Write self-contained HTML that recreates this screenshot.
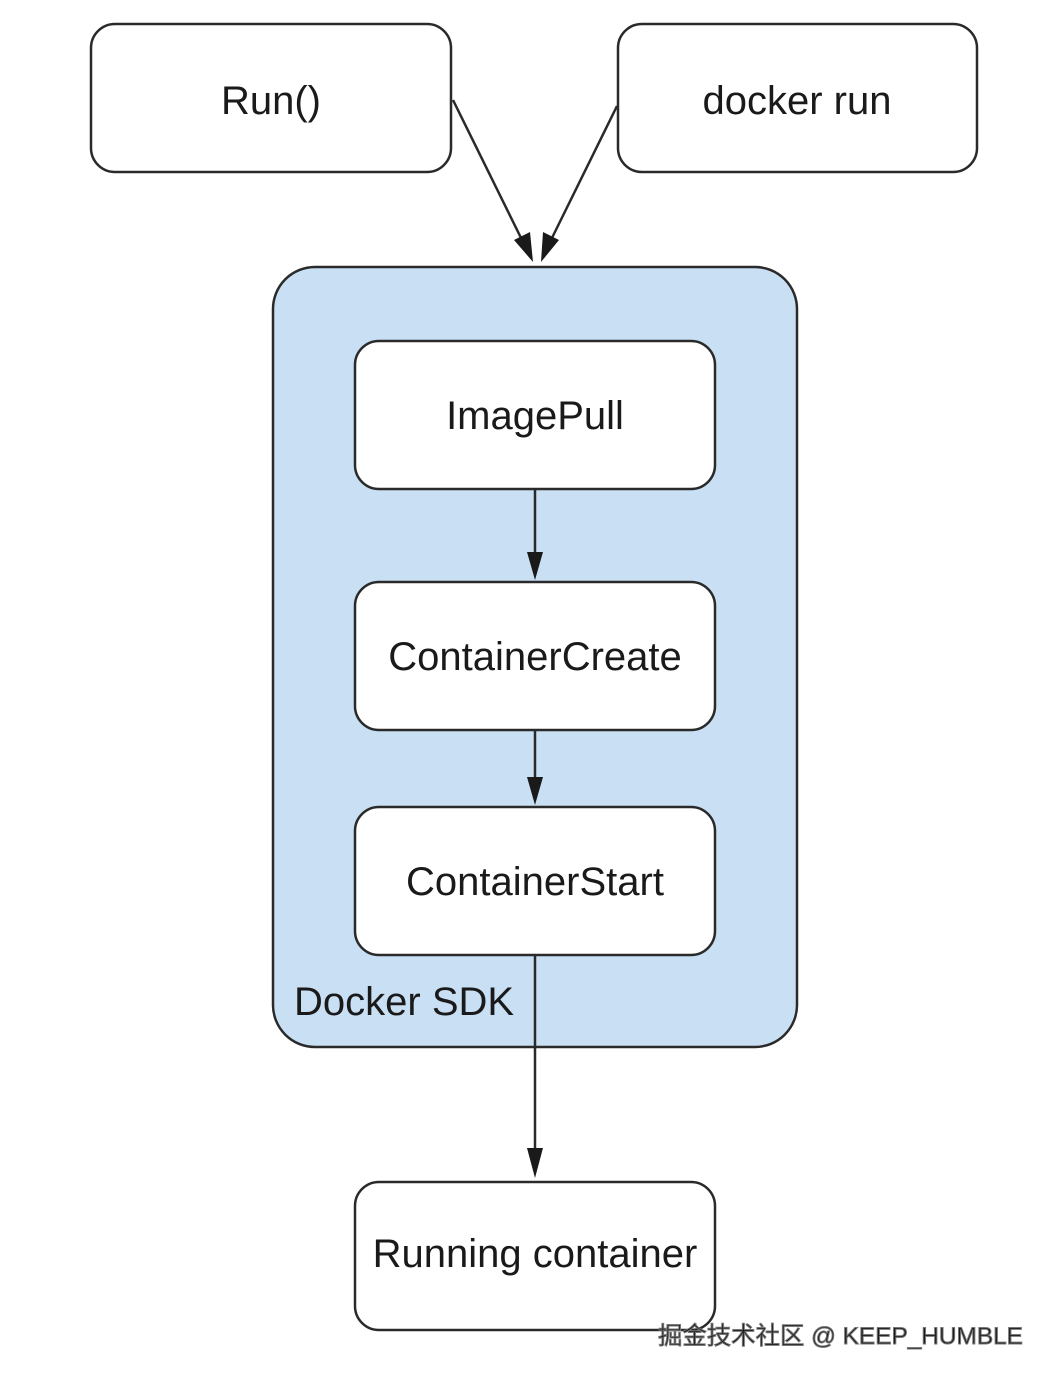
<!DOCTYPE html>
<html><head><meta charset="utf-8"><style>
html,body{margin:0;padding:0;background:#fff;}
svg{display:block;}
text{font-family:"Liberation Sans",Arial,sans-serif;fill:#1a1a1a;}
</style></head><body>
<svg width="1056" height="1382" viewBox="0 0 1056 1382" xmlns="http://www.w3.org/2000/svg">
<g stroke="#2a2a2a" stroke-width="2.5" fill="#fff">
<rect x="91" y="24" width="360" height="148" rx="24"/>
<rect x="618" y="24" width="359" height="148" rx="24"/>
<rect x="273" y="267" width="524" height="780" rx="42" fill="#c9dff4"/>
<rect x="355" y="341" width="360" height="148" rx="24"/>
<rect x="355" y="582" width="360" height="148" rx="24"/>
<rect x="355" y="807" width="360" height="148" rx="24"/>
<rect x="355" y="1182" width="360" height="148" rx="24"/>
</g>
<g stroke="#2a2a2a" stroke-width="2.5" fill="none">
<line x1="453" y1="100" x2="524" y2="244"/>
<line x1="617" y1="106" x2="549" y2="244"/>
<line x1="535" y1="489" x2="535" y2="560"/>
<line x1="535" y1="730" x2="535" y2="785"/>
<line x1="535" y1="955" x2="535" y2="1155"/>
</g>
<g fill="#1a1a1a">
<polygon points="533,262 514,240 530,232"/>
<polygon points="541,262 543,232 559,240"/>
<polygon points="535,580 527,552 543,552"/>
<polygon points="535,805 527,777 543,777"/>
<polygon points="535,1178 527,1148 543,1148"/>
</g>
<g font-size="40" text-anchor="middle">
<text x="271" y="114">Run()</text>
<text x="797" y="114">docker run</text>
<text x="535" y="429">ImagePull</text>
<text x="535" y="670">ContainerCreate</text>
<text x="535" y="895">ContainerStart</text>
<text x="535" y="1267">Running container</text>
</g>
<text x="294" y="1015" font-size="40">Docker SDK</text>
<text x="658" y="1344" font-size="24.4" fill="#fff" stroke="#777" stroke-width="1" style="font-family:'Liberation Sans','Noto Sans CJK SC',sans-serif">掘金技术社区 @ KEEP_HUMBLE</text>
</svg>
</body></html>
